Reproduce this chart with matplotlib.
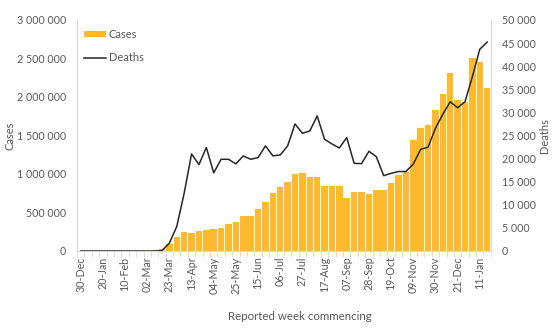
import numpy as np
import matplotlib.pyplot as plt
from matplotlib.ticker import FuncFormatter, FixedLocator

# -----------------------------------
# DATA
# -----------------------------------

week_labels = [
    "30-Dec", "20-Jan", "10-Feb", "02-Mar", "23-Mar", "13-Apr", "04-May",
    "25-May", "15-Jun", "06-Jul", "27-Jul", "17-Aug", "07-Sep", "28-Sep",
    "19-Oct", "09-Nov", "30-Nov", "21-Dec", "11-Jan"
]

cases = [
    0, 0, 0, 0, 0, 0, 0, 0, 0, 2000, 8000, 25000,
    95000, 182000, 248000, 232000, 262000, 275000, 282000, 295000,
    355000, 380000, 455000, 455000, 548000, 630000, 750000, 830000,
    895000, 995000, 1010000, 955000, 955000, 850000, 840000, 850000,
    690000, 760000, 760000, 745000, 790000, 787000,
    880000, 987000, 1020000, 1440000, 1595000, 1640000, 1835000,
    2035000, 2310000, 1957000, 1930000, 2510000, 2450000, 2113000
]

deaths = [
    0, 0, 0, 0, 0, 0, 0, 0, 0, 0, 0, 100,
    1700, 5300, 12500, 21000, 18700, 22400, 16900, 19850,
    19850, 18850, 20570, 19850, 20200, 22750, 20600, 20780,
    22730, 27500, 25480, 25980, 29230, 24180, 23170, 22300,
    24530, 18980, 18900, 21580, 20420, 16300,
    16800, 17200, 17200, 18800, 22000, 22450, 26550,
    29600, 32300, 31000, 32300, 37700, 43650, 45200
]

# -----------------------------------
# STYLE
# -----------------------------------

plt.rcParams["font.family"] = ["Lato", "DejaVu Sans"]
text_grey = "#595959"
axis_grey = "#D9D9D9"
bar_colour = "#FFB92E"

space_fmt = FuncFormatter(lambda v, p: f"{v:,.0f}".replace(",", " "))

# -----------------------------------
# PLOT
# -----------------------------------

fig = plt.figure(figsize=(5.54, 3.31), dpi=100)
ax = fig.add_axes([0.139, 0.2417, 0.747, 0.698])
ax2 = ax.twinx()

x = np.arange(len(cases))

bars = ax.bar(x, cases, width=0.88, color=bar_colour, label="Cases", zorder=2)
line, = ax2.plot(x, deaths, color="#262626", linewidth=1.1, label="Deaths")

ax.set_xlim(-0.5, len(cases) - 0.5)
ax.set_ylim(0, 3000000)
ax2.set_ylim(0, 50000)
ax.set_yticks(np.arange(0, 3000001, 500000))
ax2.set_yticks(np.arange(0, 50001, 5000))
ax.yaxis.set_major_formatter(space_fmt)
ax2.yaxis.set_major_formatter(space_fmt)

# x ticks: labels every 3 weeks, tick marks between every week
ax.set_xticks(x[::3])
ax.set_xticklabels(week_labels, rotation=90)
ax.xaxis.set_minor_locator(FixedLocator(np.arange(-0.5, len(cases), 1)))
ax.tick_params(axis="x", which="major", length=0, pad=4)
ax.tick_params(axis="x", which="minor", length=4, color=axis_grey)

for a in (ax, ax2):
    a.tick_params(axis="y", length=0, labelsize=7.7, labelcolor=text_grey)
    a.tick_params(axis="x", labelsize=7.7, labelcolor=text_grey)
    a.spines["top"].set_visible(False)
    for side in ("left", "right", "bottom"):
        a.spines[side].set_color(axis_grey)
ax.tick_params(axis="y", pad=8)
ax2.tick_params(axis="y", pad=8)

ax.set_ylabel("Cases", fontsize=8, color=text_grey)
ax.yaxis.set_label_coords(-0.148, 0.5)
ax2.set_ylabel("Deaths", fontsize=8, color=text_grey, labelpad=2)
ax.set_xlabel("Reported week commencing", fontsize=8.3, color=text_grey)
ax.xaxis.set_label_coords(0.539, -0.26)

ax.legend(
    handles=[bars, line],
    loc="upper left",
    bbox_to_anchor=(-0.005, 1.0),
    frameon=False,
    fontsize=8,
    labelcolor=text_grey,
    borderpad=0.3,
    handlelength=2.0,
    handleheight=0.45,
    handletextpad=0.25,
    labelspacing=1.1,
)

# -----------------------------------
# SAVE GRAPH
# -----------------------------------

plt.savefig("out.png", dpi=100)
